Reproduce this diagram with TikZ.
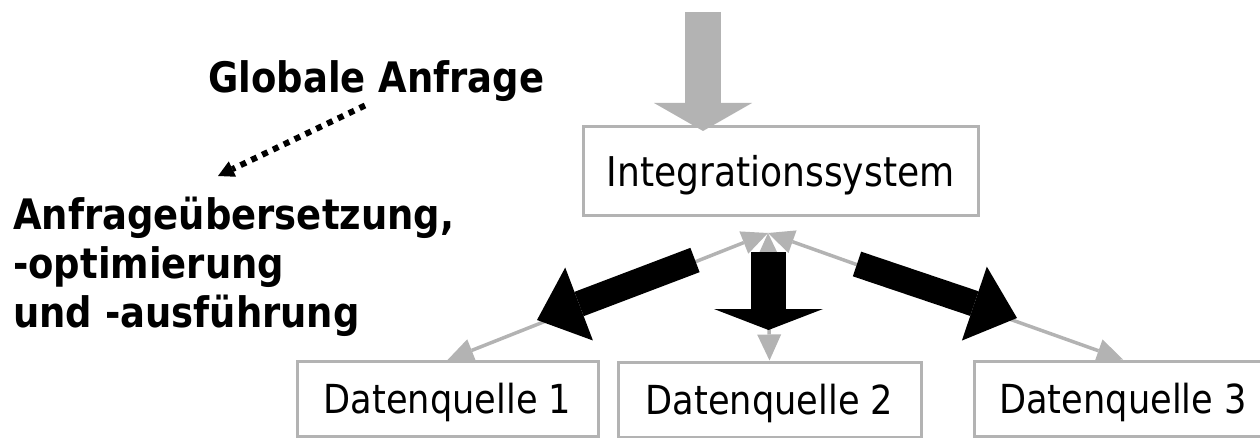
\documentclass[tikz,border=0pt]{standalone}
\usepackage{fontspec}
\setmainfont{DejaVu Sans}[FakeStretch=0.88]
\usetikzlibrary{arrows.meta,calc}
\definecolor{lgray}{RGB}{179,179,179}
\begin{document}
\begin{tikzpicture}[x=1pt,y=-1pt,
  box/.style={draw=lgray,line width=3pt,inner sep=0pt,minimum height=75pt,
    text height=29pt,text depth=0pt,font=\fontsize{40}{48}\selectfont},
  gconn/.style={draw=lgray,line width=3.5pt,
    {Triangle[length=26pt,width=24pt,line width=0pt]}-{Triangle[length=26pt,width=24pt,line width=0pt]}},
  bigblack/.style={draw=black,line width=26pt,-{Triangle[length=45pt,width=78pt,line width=0pt]}},
  midblack/.style={draw=black,line width=35pt,-{Triangle[length=21pt,width=109pt,line width=0pt]}},
  biggray/.style={draw=lgray,line width=36pt,-{Triangle[length=28pt,width=98pt,line width=0pt]}},
  dotarrow/.style={draw=black,line width=6pt,dash pattern=on 6pt off 6pt,
    -{Triangle[length=16pt,width=17pt,line width=0pt]}},
  lbl/.style={font=\bfseries\fontsize{42}{49}\selectfont,inner sep=0pt}
]
\useasboundingbox (0,0) rectangle (1260,438);
\clip (0,0) rectangle (1260,438);

% boxes
\node[box,minimum width=395pt,minimum height=89pt,text height=30pt,
  font=\fontsize{41}{48}\selectfont] (I) at (780.5,171.5) {Integrationssystem};
\node[box,minimum width=301pt] (D1) at (447.5,399) {Datenquelle 1};
\node[box,minimum width=303pt] (D2) at (769.5,399.5) {Datenquelle 2};
\node[box,minimum width=298pt] (D3) at (1123,398.5) {Datenquelle 3};

% texts
\node[lbl,anchor=base west] (G) at (208,93) {Globale Anfrage};
\node[lbl,anchor=base west,align=left] (A) at (13,327)
  {Anfrageübersetzung,\\-optimierung\\und -ausführung};

% dotted arrow
\coordinate (ds) at (365,105.5);
\coordinate (dt) at (218,176);
\draw[dotarrow] (ds) -- (dt);

% incoming global query
\coordinate (qs) at (703,12);
\coordinate (qt) at (703,131);
\draw[biggray] (qs) -- (qt);

% gray connectors
\coordinate (hub) at (768,233);
\draw[gconn] (hub) -- (D1.north);
\draw[gconn] (hub) -- (D2.north);
\draw[gconn] (hub) -- (D3.north);

% black arrows
\coordinate (b1s) at (695,260);
\coordinate (b1t) at (537,320);
\coordinate (b2s) at (768.5,252);
\coordinate (b2t) at (768.5,330);
\coordinate (b3s) at (857,264);
\coordinate (b3t) at (1017,318);
\draw[bigblack] (b1s) -- (b1t);
\draw[midblack] (b2s) -- (b2t);
\draw[bigblack] (b3s) -- (b3t);
\end{tikzpicture}
\end{document}
